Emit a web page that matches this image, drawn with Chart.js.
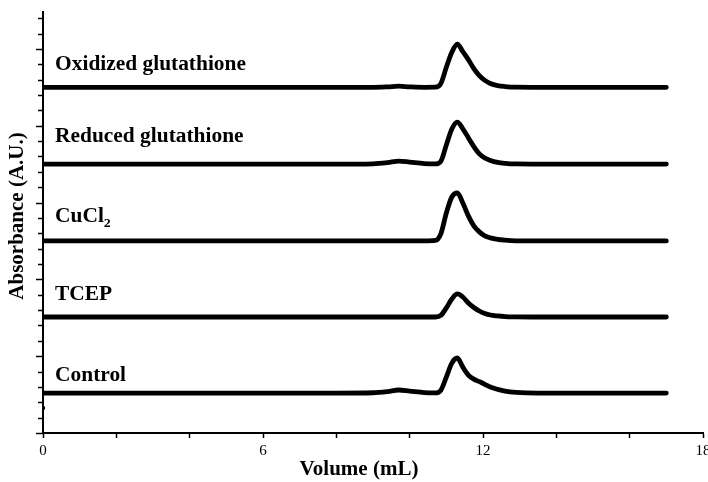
<!DOCTYPE html>
<html>
<head>
<meta charset="utf-8">
<script src="https://cdn.jsdelivr.net/npm/chart.js@4.4.0/dist/chart.umd.min.js"></script>
<style>
  html, body { margin: 0; padding: 0; background: #fff; }
  #wrap { width: 708px; height: 482px; }
</style>
</head>
<body>
<div id="wrap"><canvas id="chromChart" width="708" height="482"></canvas></div>
<script>
// --- elution volumes (mL), shared by every trace ---
const volume = [0, 2, 4, 6, 8, 9.0, 9.4, 9.7, 10.0, 10.4, 10.7, 10.85, 11.0, 11.15, 11.3, 11.45, 11.6, 11.75, 11.9, 12.05, 12.2, 12.4, 12.6, 12.9, 13.5, 15, 17];

// --- absorbance (A.U.), traces stacked with an offset ---
const oxidized = [2.25, 2.25, 2.25, 2.25, 2.25, 2.25, 2.253, 2.257, 2.253, 2.25, 2.251, 2.274, 2.38, 2.478, 2.53, 2.482, 2.43, 2.372, 2.326, 2.295, 2.275, 2.261, 2.255, 2.251, 2.25, 2.25, 2.25];
const reduced = [1.75, 1.75, 1.75, 1.75, 1.75, 1.752, 1.76, 1.77, 1.763, 1.753, 1.751, 1.768, 1.874, 1.978, 2.023, 1.98, 1.922, 1.864, 1.817, 1.79, 1.774, 1.761, 1.755, 1.751, 1.75, 1.75, 1.75];
const cucl2 = [1.25, 1.25, 1.25, 1.25, 1.25, 1.25, 1.25, 1.25, 1.25, 1.25, 1.253, 1.296, 1.432, 1.536, 1.563, 1.497, 1.413, 1.348, 1.309, 1.283, 1.27, 1.26, 1.255, 1.251, 1.25, 1.25, 1.25];
const tcep = [0.755, 0.755, 0.755, 0.755, 0.755, 0.755, 0.755, 0.755, 0.755, 0.755, 0.755, 0.765, 0.814, 0.872, 0.905, 0.885, 0.846, 0.817, 0.794, 0.778, 0.768, 0.762, 0.758, 0.756, 0.755, 0.755, 0.755];
const control = [0.26, 0.26, 0.26, 0.26, 0.26, 0.262, 0.27, 0.28, 0.273, 0.263, 0.261, 0.278, 0.364, 0.455, 0.488, 0.429, 0.377, 0.351, 0.334, 0.317, 0.299, 0.284, 0.273, 0.265, 0.26, 0.26, 0.26];

// stray point at the start of the axis
const strayPoint = [{ x: 0, y: 0.163 }];

// trace names and where their labels sit (data coords)
const traceNames = ['Oxidized glutathione', 'Reduced glutathione', 'CuCl', 'TCEP', 'Control'];
const labelAnchors = [2.363, 1.896, 1.376, 0.866, 0.339];

const xTickLabels = [0, 6, 12, 18];
const X_MAX = 18;
const Y_MAX = 2.74;

const SERIF = '"Liberation Serif", "Times New Roman", serif';

function toPoints(ys) {
    return volume.map((v, i) => ({ x: v, y: ys[i] }));
}

const traces = [oxidized, reduced, cucl2, tcep, control];

const datasets = traces.map((ys, i) => ({
    label: traceNames[i],
    data: toPoints(ys),
    borderColor: '#000',
    backgroundColor: 'transparent',
    borderWidth: 4.8,
    pointRadius: 0,
    cubicInterpolationMode: 'monotone',
    borderCapStyle: 'round',
    borderJoinStyle: 'round'
}));

datasets.push({
    label: 'stray',
    data: strayPoint,
    showLine: false,
    pointRadius: 2.2,
    pointBackgroundColor: '#000',
    pointBorderWidth: 0
});

// y ticks (minor every 0.1, longer every 0.5), trace labels and axis titles
const decorPlugin = {
    id: 'decor',
    afterDraw(chart) {
        const ctx = chart.ctx;
        const xs = chart.scales.x;
        const ys = chart.scales.y;
        const area = chart.chartArea;

        ctx.save();
        ctx.strokeStyle = '#000';
        ctx.lineWidth = 1.5;
        for (let k = 0; k <= Math.floor(Y_MAX * 10 + 1e-6); k++) {
            const py = Math.round(ys.getPixelForValue(k / 10)) + 0.5;
            const len = (k % 5 === 0) ? 7 : 5;
            ctx.beginPath();
            ctx.moveTo(area.left - len, py);
            ctx.lineTo(area.left, py);
            ctx.stroke();
        }

        // trace labels
        ctx.fillStyle = '#000';
        ctx.textBaseline = 'alphabetic';
        ctx.textAlign = 'left';
        const lx = xs.getPixelForValue(0.33);
        traceNames.forEach((name, i) => {
            const ly = ys.getPixelForValue(labelAnchors[i]);
            ctx.font = 'bold 20px ' + SERIF;
            ctx.save();
            ctx.translate(lx, ly);
            ctx.scale(1.07, 1);
            ctx.fillText(name, 0, 0);
            if (name === 'CuCl') {
                const w = ctx.measureText(name).width;
                ctx.font = 'bold 13px ' + SERIF;
                ctx.fillText('2', w, 5);
            }
            ctx.restore();
        });

        // axis titles
        ctx.font = 'bold 21px ' + SERIF;
        ctx.textAlign = 'center';
        ctx.textBaseline = 'middle';
        ctx.fillText('Volume (mL)', 359, 470);

        ctx.save();
        ctx.translate(18, 216);
        ctx.rotate(-Math.PI / 2);
        ctx.fillText('Absorbance (A.U.)', 0, 0);
        ctx.restore();

        ctx.restore();
    }
};

const chart = new Chart(document.getElementById('chromChart').getContext('2d'), {
    type: 'line',
    data: { datasets: datasets },
    options: {
        responsive: false,
        animation: false,
        layout: { padding: { top: 12, right: 5, left: 0, bottom: 0 } },
        plugins: {
            legend: { display: false },
            tooltip: { enabled: false }
        },
        scales: {
            x: {
                type: 'linear',
                min: 0,
                max: X_MAX,
                ticks: {
                    stepSize: 2,
                    autoSkip: false,
                    maxRotation: 0,
                    color: '#000',
                    padding: 4,
                    font: { family: SERIF, size: 15 },
                    callback: (v) => xTickLabels.includes(v) ? String(v) : ''
                },
                grid: {
                    drawOnChartArea: false,
                    drawTicks: true,
                    tickLength: 5,
                    tickColor: '#000',
                    tickWidth: 1.5
                },
                border: { color: '#000', width: 2 },
                afterFit: (scale) => {
                    scale.height = 49;
                    scale.paddingLeft = 0;
                    scale.paddingRight = 0;
                }
            },
            y: {
                type: 'linear',
                min: 0,
                max: Y_MAX,
                ticks: { display: false, stepSize: 0.1 },
                grid: { display: false },
                border: { color: '#000', width: 2 },
                afterFit: (scale) => {
                    scale.width = 43;
                    scale.paddingTop = 0;
                    scale.paddingBottom = 0;
                }
            }
        }
    },
    plugins: [decorPlugin]
});
</script>
</body>
</html>
